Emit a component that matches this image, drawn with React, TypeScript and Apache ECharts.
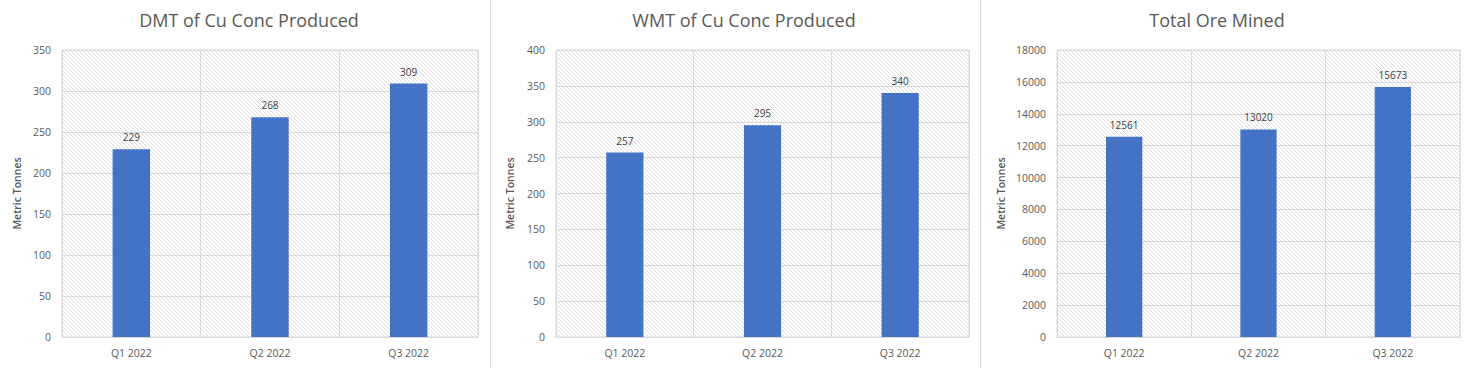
import React, { useEffect, useRef } from "react";
import * as echarts from "echarts";

const categories = ["Q1 2022", "Q2 2022", "Q3 2022"];
const titles = ["DMT of Cu Conc Produced", "WMT of Cu Conc Produced", "Total Ore Mined"];
const dmtValues = [229, 268, 309];
const wmtValues = [257, 295, 340];
const oreValues = [12561, 13020, 15673];
const yMax = [350, 400, 18000];
const yInterval = [50, 50, 2000];
const yAxisName = "Metric Tonnes";

function makeHatch(): HTMLCanvasElement {
  const c = document.createElement("canvas");
  c.width = 4;
  c.height = 4;
  const ctx = c.getContext("2d")!;
  ctx.clearRect(0, 0, 4, 4);
  ctx.fillStyle = "#ffffff";
  ctx.fillRect(0, 0, 4, 4);
  ctx.strokeStyle = "#dadada";
  ctx.lineWidth = 0.9;
  ctx.beginPath();
  ctx.moveTo(-1, -1);
  ctx.lineTo(5, 5);
  ctx.moveTo(-1, 3);
  ctx.lineTo(1, 5);
  ctx.moveTo(3, -1);
  ctx.lineTo(5, 1);
  ctx.stroke();
  return c;
}

export default function App() {
  const ref = useRef<HTMLDivElement>(null);
  useEffect(() => {
    document.body.style.margin = "0";
    const chart = echarts.init(ref.current!, null, { renderer: "svg" });
    const hatch = makeHatch();
    const font = "'Open Sans', 'Noto Sans', sans-serif";
    const grids = [
      { left: 62, right: 1470 - 478, top: 50, bottom: 31 },
      { left: 556, right: 1470 - 969, top: 50, bottom: 31 },
      { left: 1057, right: 10, top: 50, bottom: 31 },
    ];
    const titleCenters = [244, 739, 1212];
    const nameGaps = [40, 41, 51];
    const allValues = [dmtValues, wmtValues, oreValues];
    const option: any = {
      animation: false,
      backgroundColor: "#ffffff",
      title: titles.map((t, i) => ({
        text: t,
        left: titleCenters[i],
        top: 6,
        textAlign: "center",
        textStyle: { fontFamily: font, fontSize: 18, fontWeight: "normal", color: "#595959" },
      })),
      grid: grids.map((g) => ({
        ...g,
        show: true,
        borderColor: "#d9d9d9",
        borderWidth: 1,
        backgroundColor: { image: hatch, repeat: "repeat" },
        containLabel: false,
      })),
      xAxis: grids.map((_, i) => ({
        type: "category",
        gridIndex: i,
        data: categories,
        axisLine: { show: true, lineStyle: { color: "#d9d9d9" } },
        axisTick: { show: false },
        splitLine: { show: true, interval: 0, lineStyle: { color: "#d9d9d9" } },
        axisLabel: { color: "#595959", fontFamily: font, fontSize: 10.5, margin: 10 },
      })),
      yAxis: grids.map((_, i) => ({
        type: "value",
        gridIndex: i,
        min: 0,
        max: yMax[i],
        interval: yInterval[i],
        name: yAxisName,
        nameLocation: "middle",
        nameGap: nameGaps[i],
        nameTextStyle: { color: "#595959", fontFamily: font, fontSize: 10.5, fontWeight: 600 },
        axisLine: { show: false },
        axisTick: { show: false },
        splitLine: { show: true, lineStyle: { color: "#d9d9d9" } },
        axisLabel: {
          color: "#595959",
          fontFamily: font,
          fontSize: 10.5,
          margin: 11,
          formatter: (v: number) => String(v),
        },
      })),
      series: allValues.map((vals, i) => ({
        type: "bar",
        xAxisIndex: i,
        yAxisIndex: i,
        data: vals,
        barWidth: "27%",
        itemStyle: { color: "#4472C4" },
        label: {
          show: true,
          position: "top",
          distance: 7,
          color: "#404040",
          fontFamily: font,
          fontSize: 10,
        },
      })),
      graphic: [
        { type: "line", shape: { x1: 490.5, y1: 0, x2: 490.5, y2: 368 }, style: { stroke: "#d9d9d9", lineWidth: 1 } },
        { type: "line", shape: { x1: 980.5, y1: 0, x2: 980.5, y2: 368 }, style: { stroke: "#d9d9d9", lineWidth: 1 } },
      ],
    };
    chart.setOption(option);
    return () => chart.dispose();
  }, []);
  return <div ref={ref} style={{ width: 1470, height: 368 }} />;
}
